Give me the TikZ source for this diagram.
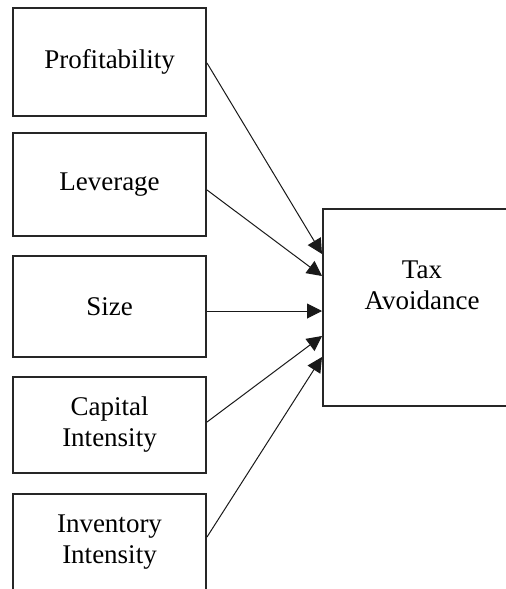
\documentclass[tikz,border=0pt]{standalone}
\usepackage{fontspec}
\setmainfont{Liberation Serif}
\usetikzlibrary{arrows.meta,calc}
\begin{document}
\begin{tikzpicture}[x=0.5pt,y=-0.5pt,
  box/.style={draw=black!85,line width=1pt,inner sep=0pt,align=center,minimum width=96.5pt,
    font=\fontsize{13.5}{15.5}\selectfont},
  conn/.style={draw=black!90,line width=0.5pt,-{Triangle[length=7.5pt,width=7.5pt]}},
  txt/.style={align=center,inner sep=0pt,font=\fontsize{13.5}{15.5}\selectfont}]
\useasboundingbox (0,0) rectangle (506,589);
\clip (0,0) rectangle (506,589);
\node[box,minimum height=54pt] (prof) at (109.5,62) {Profitability};
\node[box,minimum height=51.5pt] (lev) at (109.5,184.5) {Leverage};
\node[box,minimum height=50.5pt] (size) at (109.5,306.5) {Size};
\node[box,minimum height=48pt] (cap) at (109.5,425) {Capital\\Intensity};
\node[box,minimum height=48pt] (inv) at (109.5,542) {Inventory\\Intensity};
\node[box,minimum width=92pt,minimum height=98.5pt] (tax) at (415,307.5) {};
\node[txt] (taxtext) at (422,285) {Tax\\Avoidance};
\coordinate (t1) at ($(tax.west)+(0,-53.5)$);
\coordinate (t2) at ($(tax.west)+(0,-31.5)$);
\coordinate (t3) at ($(tax.west)+(0,3.5)$);
\coordinate (t4) at ($(tax.west)+(0,28.5)$);
\coordinate (t5) at ($(tax.west)+(0,49.5)$);
\draw[conn] ($(prof.east)+(0,1)$) -- (t1);
\draw[conn] ($(lev.east)+(0,5.5)$) -- (t2);
\draw[conn] ($(size.east)+(0,4.5)$) -- (t3);
\draw[conn] ($(cap.east)+(0,-3)$) -- (t4);
\draw[conn] ($(inv.east)+(0,-5)$) -- (t5);
\end{tikzpicture}
\end{document}
